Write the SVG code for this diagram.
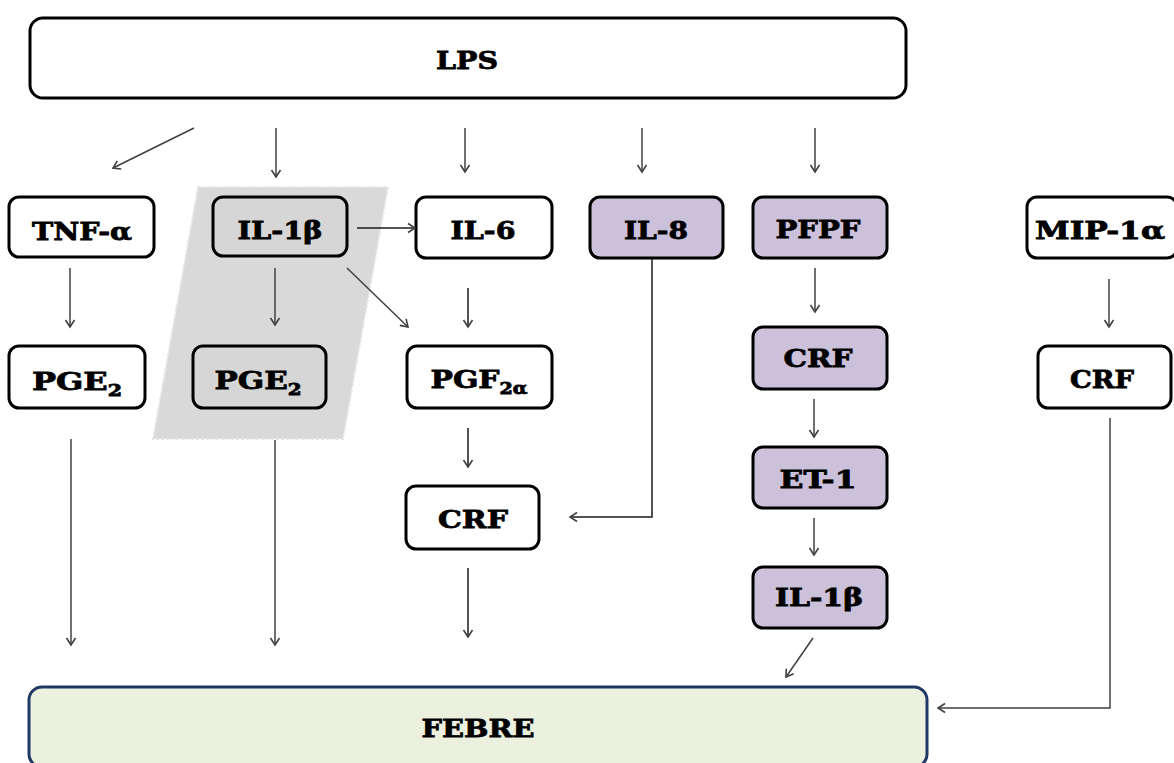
<svg xmlns="http://www.w3.org/2000/svg" width="1174" height="763" viewBox="0 0 1174 763">
<style>
.box{fill:#ffffff;stroke:#000000;stroke-width:3}
.gray{fill:#d6d6d6}
.purple{fill:#ccc1da}
.lbl{font-family:"DejaVu Serif","Liberation Serif",serif;font-weight:bold;font-size:25px;fill:#000000;stroke:#000000;stroke-width:0.8;text-anchor:middle}
.sub{font-size:16px}
.con{fill:none;stroke:#404040;stroke-width:1.5}
.dark{stroke:#1a1a1a}
</style>
<defs>
<marker id="ah" markerUnits="userSpaceOnUse" markerWidth="14" markerHeight="14" refX="10" refY="6" orient="auto">
<path d="M3,1.5 L10,6 L3,10.5" fill="none" stroke="#404040" stroke-width="1.6"/>
</marker>
</defs>
<rect width="1174" height="763" fill="#ffffff"/>
<polygon id="highlight" points="198,187 388,187 343,439 153,439" fill="#d9d9d9" stroke="#e6e6e6" stroke-width="2" stroke-dasharray="3,2"/>

<g id="LPS"><rect class="box" x="30" y="18" width="876" height="80" rx="13"/><text class="lbl" x="467" y="69" font-size="29" textLength="62" lengthAdjust="spacingAndGlyphs">LPS</text></g>

<g id="TNF"><rect class="box" x="9" y="197" width="145" height="60" rx="10"/><text class="lbl" x="82" y="240" textLength="100" lengthAdjust="spacingAndGlyphs">TNF-α</text></g>
<g id="IL1b"><rect class="box gray" x="213" y="197" width="134" height="59" rx="10"/><text class="lbl" x="280" y="239" textLength="85" lengthAdjust="spacingAndGlyphs">IL-1β</text></g>
<g id="IL6"><rect class="box" x="416" y="197" width="136" height="61" rx="10"/><text class="lbl" x="483" y="239" textLength="65" lengthAdjust="spacingAndGlyphs">IL-6</text></g>
<g id="IL8"><rect class="box purple" x="590" y="197" width="133" height="61" rx="10"/><text class="lbl" x="656" y="239" textLength="64" lengthAdjust="spacingAndGlyphs">IL-8</text></g>
<g id="PFPF"><rect class="box purple" x="753" y="197" width="134" height="61" rx="10"/><text class="lbl" x="818" y="238" textLength="85" lengthAdjust="spacingAndGlyphs">PFPF</text></g>
<g id="MIP"><rect class="box" x="1027" y="197" width="150" height="61" rx="10"/><text class="lbl" x="1100" y="239" textLength="130" lengthAdjust="spacingAndGlyphs">MIP-1α</text></g>

<g id="PGE2a"><rect class="box" x="9" y="346" width="136" height="62" rx="10"/><text class="lbl" x="77" y="390" textLength="90" lengthAdjust="spacingAndGlyphs">PGE<tspan class="sub" dy="6">2</tspan></text></g>
<g id="PGE2b"><rect class="box gray" x="193" y="346" width="133" height="62" rx="10"/><text class="lbl" x="258" y="389" textLength="87" lengthAdjust="spacingAndGlyphs">PGE<tspan class="sub" dy="6">2</tspan></text></g>
<g id="PGF2a"><rect class="box" x="407" y="346" width="145" height="62" rx="10"/><text class="lbl" x="479" y="388" textLength="97" lengthAdjust="spacingAndGlyphs">PGF<tspan class="sub" dy="6">2α</tspan></text></g>
<g id="CRFp"><rect class="box purple" x="753" y="327" width="134" height="62" rx="10"/><text class="lbl" x="818" y="367" textLength="69" lengthAdjust="spacingAndGlyphs">CRF</text></g>
<g id="CRFr"><rect class="box" x="1038" y="346" width="133" height="62" rx="10"/><text class="lbl" x="1102" y="388" textLength="64" lengthAdjust="spacingAndGlyphs">CRF</text></g>

<g id="CRFm"><rect class="box" x="406" y="486" width="133" height="63" rx="10"/><text class="lbl" x="473" y="528" textLength="70" lengthAdjust="spacingAndGlyphs">CRF</text></g>
<g id="ET1"><rect class="box purple" x="753" y="447" width="134" height="61" rx="10"/><text class="lbl" x="818" y="488" textLength="77" lengthAdjust="spacingAndGlyphs">ET-1</text></g>
<g id="IL1bp"><rect class="box purple" x="753" y="567" width="134" height="61" rx="10"/><text class="lbl" x="819" y="606" textLength="88" lengthAdjust="spacingAndGlyphs">IL-1β</text></g>

<g id="FEBRE"><rect x="29" y="687" width="898" height="80" rx="13" fill="#ebf0df" stroke="#203864" stroke-width="3"/><text class="lbl" x="478" y="737" textLength="113" lengthAdjust="spacingAndGlyphs">FEBRE</text></g>

<g id="connectors">
<line class="con" x1="194" y1="128" x2="113" y2="168" marker-end="url(#ah)"/>
<line class="con" x1="276" y1="128" x2="276" y2="177" marker-end="url(#ah)"/>
<line class="con" x1="465" y1="128" x2="465" y2="172" marker-end="url(#ah)"/>
<line class="con" x1="642" y1="128" x2="642" y2="172" marker-end="url(#ah)"/>
<line class="con" x1="815" y1="128" x2="815" y2="172" marker-end="url(#ah)"/>
<line class="con dark" x1="357" y1="228" x2="415" y2="228" marker-end="url(#ah)"/>
<line class="con" x1="275" y1="268" x2="275" y2="325" marker-end="url(#ah)"/>
<line class="con" x1="347" y1="268" x2="408" y2="327" marker-end="url(#ah)"/>
<line class="con" x1="70" y1="268" x2="70" y2="327" marker-end="url(#ah)"/>
<line class="con dark" x1="468" y1="288" x2="468" y2="327" marker-end="url(#ah)"/>
<line class="con" x1="815" y1="268" x2="815" y2="312" marker-end="url(#ah)"/>
<line class="con" x1="1109" y1="279" x2="1109" y2="327" marker-end="url(#ah)"/>
<line class="con" x1="71" y1="439" x2="71" y2="645" marker-end="url(#ah)"/>
<line class="con" x1="275" y1="440" x2="275" y2="645" marker-end="url(#ah)"/>
<line class="con dark" x1="468" y1="428" x2="468" y2="467" marker-end="url(#ah)"/>
<line class="con dark" x1="468" y1="568" x2="468" y2="637" marker-end="url(#ah)"/>
<polyline class="con dark" points="652,258 652,517 570,517" marker-end="url(#ah)"/>
<line class="con" x1="814" y1="399" x2="814" y2="437" marker-end="url(#ah)"/>
<line class="con" x1="814" y1="518" x2="814" y2="555" marker-end="url(#ah)"/>
<line class="con" x1="813" y1="638" x2="786" y2="677" marker-end="url(#ah)"/>
<polyline class="con" points="1110,418 1110,708 938,708" marker-end="url(#ah)"/>
</g>
</svg>
